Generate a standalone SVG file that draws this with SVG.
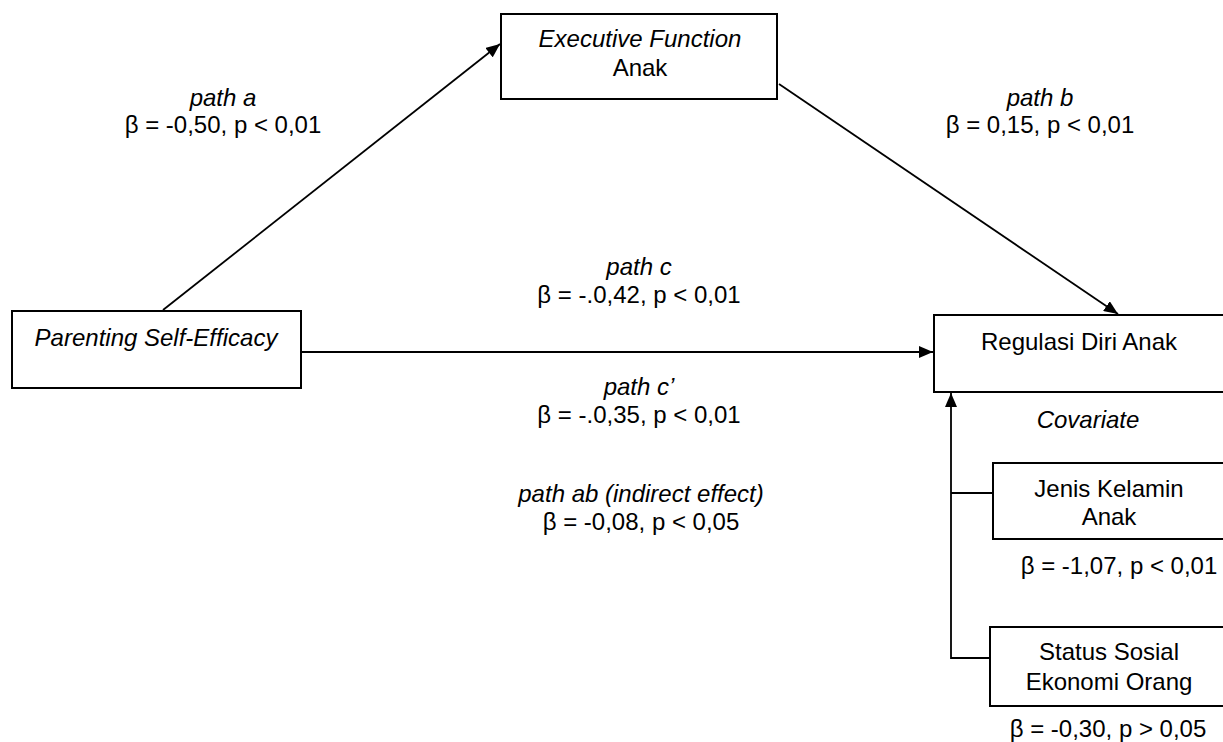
<svg xmlns="http://www.w3.org/2000/svg" width="1223" height="742" viewBox="0 0 1223 742">
<defs>
<style>
.box{fill:#fff;stroke:#000;stroke-width:2}
.ln{fill:none;stroke:#000;stroke-width:1.8}
text{font-family:"Liberation Sans",Arial,sans-serif;font-size:24px;fill:#000;text-anchor:middle}
.it{font-style:italic}
</style>
<marker id="ah" markerWidth="14" markerHeight="12" refX="14" refY="6" orient="auto" markerUnits="userSpaceOnUse">
<path d="M0,0 L14,6 L0,12 Z" fill="#000"/>
</marker>
</defs>
<rect width="1223" height="742" fill="#fff"/>
<g id="connectors">
<line class="ln" x1="163" y1="310" x2="500" y2="44" marker-end="url(#ah)"/>
<line class="ln" x1="779" y1="84" x2="1118" y2="314" marker-end="url(#ah)"/>
<line class="ln" x1="301" y1="352" x2="933" y2="352" marker-end="url(#ah)"/>
<polyline class="ln" points="990,658 951,658 951,393" marker-end="url(#ah)"/>
<line class="ln" x1="951" y1="493" x2="993" y2="493"/>
</g>
<g id="node-ef">
<rect class="box" x="501" y="14" width="276" height="85"/>
<text class="it" x="640" y="47">Executive Function</text>
<text x="640" y="76">Anak</text>
</g>
<g id="node-pse">
<rect class="box" x="12" y="311" width="289" height="77"/>
<text class="it" x="156" y="346">Parenting Self-Efficacy</text>
</g>
<g id="node-rda">
<rect class="box" x="934" y="315" width="300" height="77"/>
<text x="1079" y="350">Regulasi Diri Anak</text>
</g>
<g id="node-jk">
<rect class="box" x="993" y="463" width="240" height="76"/>
<text x="1109" y="497">Jenis Kelamin</text>
<text x="1109" y="525">Anak</text>
</g>
<g id="node-sse">
<rect class="box" x="990" y="627" width="243" height="79"/>
<text x="1109" y="660">Status Sosial</text>
<text x="1109" y="690">Ekonomi Orang</text>
</g>
<g id="labels">
<text class="it" x="223" y="106">path a</text>
<text x="223" y="133">β = -0,50, p &lt; 0,01</text>
<text class="it" x="1040" y="106">path b</text>
<text x="1040" y="133">β = 0,15, p &lt; 0,01</text>
<text class="it" x="639" y="275">path c</text>
<text x="639" y="303">β = -.0,42, p &lt; 0,01</text>
<text class="it" x="639" y="395">path c’</text>
<text x="639" y="423">β = -.0,35, p &lt; 0,01</text>
<text class="it" x="641" y="502">path ab (indirect effect)</text>
<text x="641" y="530">β = -0,08, p &lt; 0,05</text>
<text class="it" x="1088" y="428">Covariate</text>
<text x="1119" y="574">β = -1,07, p &lt; 0,01</text>
<text x="1108" y="737">β = -0,30, p &gt; 0,05</text>
</g>
</svg>
